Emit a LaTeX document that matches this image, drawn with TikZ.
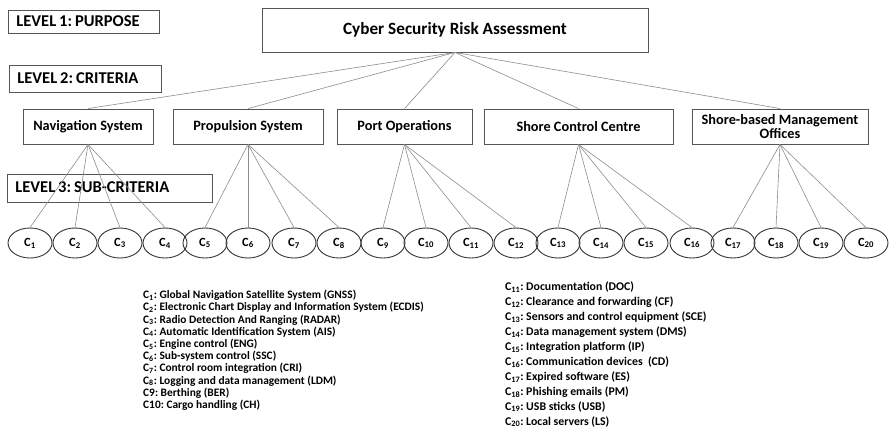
\documentclass[tikz,border=0pt]{standalone}
\usepackage{fontspec}
\setmainfont{Carlito}
\frenchspacing
\usetikzlibrary{shapes.geometric}
\definecolor{boxline}{HTML}{555555}
\definecolor{conn}{HTML}{8C8C8C}
\newcommand{\lvsp}{\hspace{0.18em}}
\begin{document}
\begin{tikzpicture}[x=1pt,y=-1pt,
  levelbox/.style={draw=boxline,line width=0.9pt,anchor=north west,inner xsep=8pt,inner ysep=0pt,font=\fontsize{16.5}{17}\selectfont\bfseries,align=left,text height=11pt,text depth=2pt},
  critbox/.style={draw=boxline,line width=0.9pt,inner sep=0pt,font=\fontsize{14.3}{15}\selectfont\bfseries,align=center},
  subell/.style={draw=black!80,line width=0.9pt,ellipse,minimum width=44pt,minimum height=30pt,inner sep=0pt,font=\fontsize{12.5}{13}\selectfont\bfseries},
  conn/.style={draw=conn,line width=0.6pt},
  legend/.style={anchor=north west,inner sep=0pt,align=left}
]
\useasboundingbox (0,0) rectangle (889,431);
% level labels
\node[levelbox,text width=135pt,minimum height=23pt] (l1) at (8,10) {LEVEL\lvsp 1:\lvsp PURPOSE};
\node[levelbox,text width=136pt,minimum height=27pt] (l2) at (9,65) {LEVEL\lvsp 2:\lvsp CRITERIA};
\node[levelbox,text width=189pt,minimum height=28pt] (l3) at (7,174) {LEVEL\lvsp 3:\lvsp SUB-CRITERIA};
% goal
\node[critbox,minimum width=386pt,minimum height=44pt,font=\fontsize{17.2}{18}\selectfont\bfseries] (goal) at (455,30) {Cyber Security Risk Assessment};
% criteria
\node[critbox,minimum width=130pt,minimum height=35pt] (nav) at (88,126.5) {Navigation System};
\node[critbox,minimum width=150pt,minimum height=35pt] (prop) at (248,126.5) {Propulsion System};
\node[critbox,minimum width=135pt,minimum height=35pt] (port) at (404.5,126.5) {Port Operations};
\node[critbox,minimum width=176pt,minimum height=35pt,font=\fontsize{14.3}{14}\selectfont\bfseries] (sbm) at (780,126.5) {Shore-based Management\\Offices};
\node[critbox,minimum width=189pt,minimum height=35pt] (scc) at (578.5,126.5) {Shore Control Centre};
\foreach \c in {nav,prop,port,scc,sbm} \draw[conn] (goal.south) -- (\c.north);
% sub-criteria
\foreach \i/\x in {1/30,2/75,3/120,4/165,5/205,6/248,7/294,8/339,9/383,10/426,11/471,12/516,13/558,14/601,15/646,16/692,17/733,18/776,19/821,20/866}
  \node[subell] (c\i) at (\x,243) {C\textsubscript{\i}};
\foreach \i in {1,...,4} \draw[conn] (nav.south) -- (c\i.north);
\foreach \i in {5,...,8} \draw[conn] (prop.south) -- (c\i.north);
\foreach \i in {9,...,12} \draw[conn] (port.south) -- (c\i.north);
\foreach \i in {13,...,16} \draw[conn] (scc.south) -- (c\i.north);
\foreach \i in {17,...,20} \draw[conn] (sbm.south) -- (c\i.north);
% legends
\node[legend,font=\fontsize{11.4}{12.2}\selectfont\bfseries] (legA) at (143,290) {%
C\textsubscript{1}: Global Navigation Satellite System (GNSS)\\
C\textsubscript{2}: Electronic Chart Display and Information System (ECDIS)\\
C\textsubscript{3}: Radio Detection And Ranging (RADAR)\\
C\textsubscript{4}: Automatic Identification System (AIS)\\
C\textsubscript{5}: Engine control (ENG)\\
C\textsubscript{6}: Sub-system control (SSC)\\
C\textsubscript{7}: Control room integration (CRI)\\
C\textsubscript{8}: Logging and data management (LDM)\\
C9: Berthing (BER)\\
C10: Cargo handling (CH)};
\node[legend,font=\fontsize{11.8}{14.9}\selectfont\bfseries] (legB) at (505,282) {%
C\textsubscript{11}: Documentation (DOC)\\
C\textsubscript{12}: Clearance and forwarding (CF)\\
C\textsubscript{13}: Sensors and control equipment (SCE)\\
C\textsubscript{14}: Data management system (DMS)\\
C\textsubscript{15}: Integration platform (IP)\\
C\textsubscript{16}: Communication devices \ (CD)\\
C\textsubscript{17}: Expired software (ES)\\
C\textsubscript{18}: Phishing emails (PM)\\
C\textsubscript{19}: USB sticks (USB)\\
C\textsubscript{20}: Local servers (LS)};
\end{tikzpicture}
\end{document}
